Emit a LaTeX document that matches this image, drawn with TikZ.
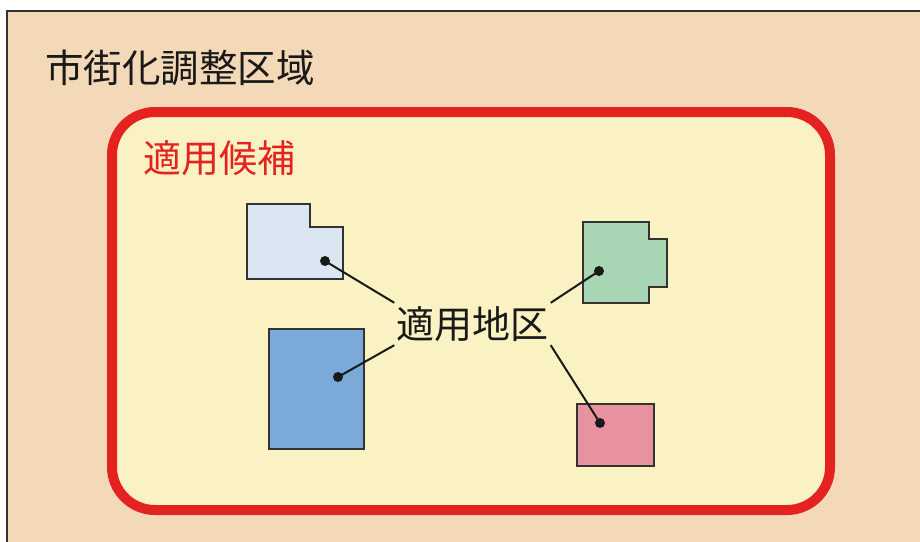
\documentclass[tikz,border=0pt]{standalone}
\usepackage{fontspec}
\newfontfamily\cjk{Noto Sans CJK JP}
\definecolor{tanbg}{HTML}{F3D9B8}
\definecolor{creamin}{HTML}{FBF2C4}
\definecolor{redln}{HTML}{E42320}
\definecolor{ltblue}{HTML}{DCE6F2}
\definecolor{grn}{HTML}{A8D6B4}
\definecolor{blu}{HTML}{7BA9D8}
\definecolor{pnk}{HTML}{E8919F}
\definecolor{outl}{HTML}{333333}
\begin{document}
\begin{tikzpicture}[x=1pt,y=-1pt,
  parcel/.style={draw=outl,line width=2pt,line join=miter},
  dotc/.style={circle,fill=black!90,inner sep=0pt,minimum size=10pt},
  link/.style={line width=2pt,draw=black!90}]
\useasboundingbox (0,0) rectangle (920,541);
\fill[white] (0,0) rectangle (920,541);
\draw[fill=tanbg,draw=black!80,line width=1.5pt] (7,11) rectangle (930,550);
\draw[fill=creamin,draw=redln,line width=10pt,rounded corners=43pt] (112,112) rectangle (830,510);
\node[anchor=west,inner sep=0pt,font=\cjk\fontsize{38.5}{42}\selectfont,text=black!90] (title) at (45,68) {市街化調整区域};
\node[anchor=west,inner sep=0pt,font=\cjk\fontsize{38}{42}\selectfont,text=redln] (cand) at (143,158) {適用候補};
% parcels
\draw[parcel,fill=ltblue] (247,204) -- (310,204) -- (310,227) -- (343,227) -- (343,279) -- (247,279) -- cycle;
\draw[parcel,fill=grn] (583,222) -- (649,222) -- (649,239) -- (667,239) -- (667,287) -- (649,287) -- (649,303) -- (583,303) -- cycle;
\draw[parcel,fill=blu] (269,329) rectangle (364,449);
\draw[parcel,fill=pnk] (577,404) rectangle (654,466);
% label
\node[inner sep=0pt,minimum width=156pt,minimum height=42pt,font=\cjk\fontsize{38}{42}\selectfont,text=black!90] (lbl) at (472.5,324) {適用地区};
\node[dotc] (d1) at (325,261) {};
\node[dotc] (d2) at (338,377) {};
\node[dotc] (d3) at (599,271) {};
\node[dotc] (d4) at (600,423) {};
\draw[link] (d1.center) -- (lbl.north west);
\draw[link] (d2.center) -- (lbl.south west);
\draw[link] (d3.center) -- (lbl.north east);
\draw[link] (d4.center) -- (lbl.south east);
\end{tikzpicture}
\end{document}
